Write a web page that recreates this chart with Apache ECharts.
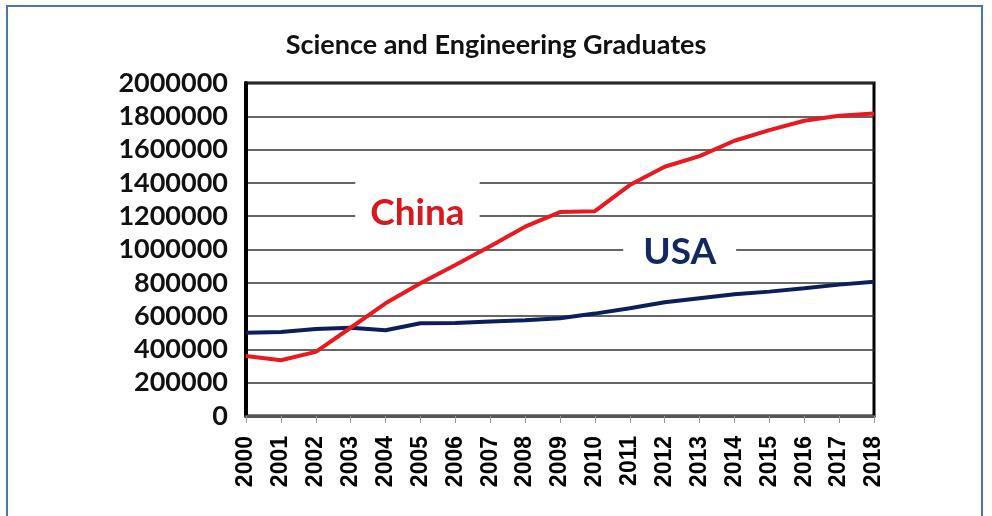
<!DOCTYPE html>
<html>
<head>
<meta charset="utf-8">
<script src="https://cdn.jsdelivr.net/npm/echarts@6/dist/echarts.min.js"></script>
<style>
html,body{margin:0;padding:0;background:#fff;}
#chart{width:992px;height:516px;}
#frame{position:absolute;left:6px;top:5px;width:977px;height:530px;border:2px solid #4a76b4;box-sizing:border-box;pointer-events:none;}
</style>
</head>
<body>
<div id="chart"></div>
<div id="frame"></div>
<script>
const years = ['2000','2001','2002','2003','2004','2005','2006','2007','2008','2009','2010','2011','2012','2013','2014','2015','2016','2017','2018'];
const china = [360000,335000,385000,530000,677000,797000,907000,1020000,1137000,1225000,1230000,1387000,1497000,1561000,1653000,1717000,1773000,1803000,1817000];
const usa = [500000,505000,523000,530000,515000,557000,558000,567000,575000,587000,615000,647000,683000,707000,731000,747000,767000,789000,807000];
const yTicks = [0,200000,400000,600000,800000,1000000,1200000,1400000,1600000,1800000,2000000];

const chart = echarts.init(document.getElementById('chart'), null, {renderer:'canvas'});
chart.setOption({
  animation:false,
  backgroundColor:'#fff',
  title:{
    text:'Science and Engineering Graduates',
    left:'center', top:27,
    textStyle:{fontFamily:'Lato', fontWeight:'bold', fontSize:27, color:'#111'}
  },
  grid:{left:246, right:118, top:83, bottom:100, show:true, borderColor:'#000', borderWidth:3, backgroundColor:'transparent'},
  xAxis:{
    type:'category', data:years, boundaryGap:false,
    axisLine:{lineStyle:{color:'#555', width:3}},
    axisTick:{show:true, length:7, lineStyle:{color:'#999', width:1}},
    axisLabel:{rotate:90, margin:20, fontFamily:'Liberation Sans', fontWeight:'bold', fontSize:23, color:'#000'},
    splitLine:{show:false}
  },
  yAxis:{
    type:'value', min:0, max:2000000, interval:200000,
    axisLine:{show:true, lineStyle:{color:'#000', width:4}},
    axisTick:{show:false},
    axisLabel:{margin:18, fontFamily:'Lato', fontWeight:'bold', fontSize:27, color:'#111',
      formatter:function(v){return yTicks.indexOf(v)>=0 ? String(v) : '';}},
    splitLine:{show:true, lineStyle:{color:'#333', width:1.5}}
  },
  series:[
    {
      name:'USA', type:'line', data:usa, showSymbol:false, symbol:'none',
      lineStyle:{color:'#0d1f5a', width:4}, itemStyle:{color:'#0d1f5a'},
      markPoint:{
        symbol:'rect', symbolSize:[1,1], itemStyle:{color:'rgba(0,0,0,0)'},
        data:[{coord:['2012',985000], value:'USA'}],
        label:{show:true, position:'inside', offset:[15,0], formatter:'USA',
          color:'#13285f', fontFamily:'Lato', fontWeight:'bold', fontSize:37,
          backgroundColor:'#fff', padding:[6,20,4,20]}
      }
    },
    {
      name:'China', type:'line', data:china, showSymbol:false, symbol:'none',
      lineStyle:{color:'#e8191f', width:4}, itemStyle:{color:'#e8191f'},
      markPoint:{
        symbol:'rect', symbolSize:[1,1], itemStyle:{color:'rgba(0,0,0,0)'},
        data:[{coord:['2005',1220000], value:'China'}],
        label:{show:true, position:'inside', offset:[-3,0], formatter:'China',
          color:'#d7191f', fontFamily:'Lato', fontWeight:'bold', fontSize:37,
          backgroundColor:'#fff', padding:[16,15,10,15]}
      }
    }
  ]
});
</script>
</body>
</html>
